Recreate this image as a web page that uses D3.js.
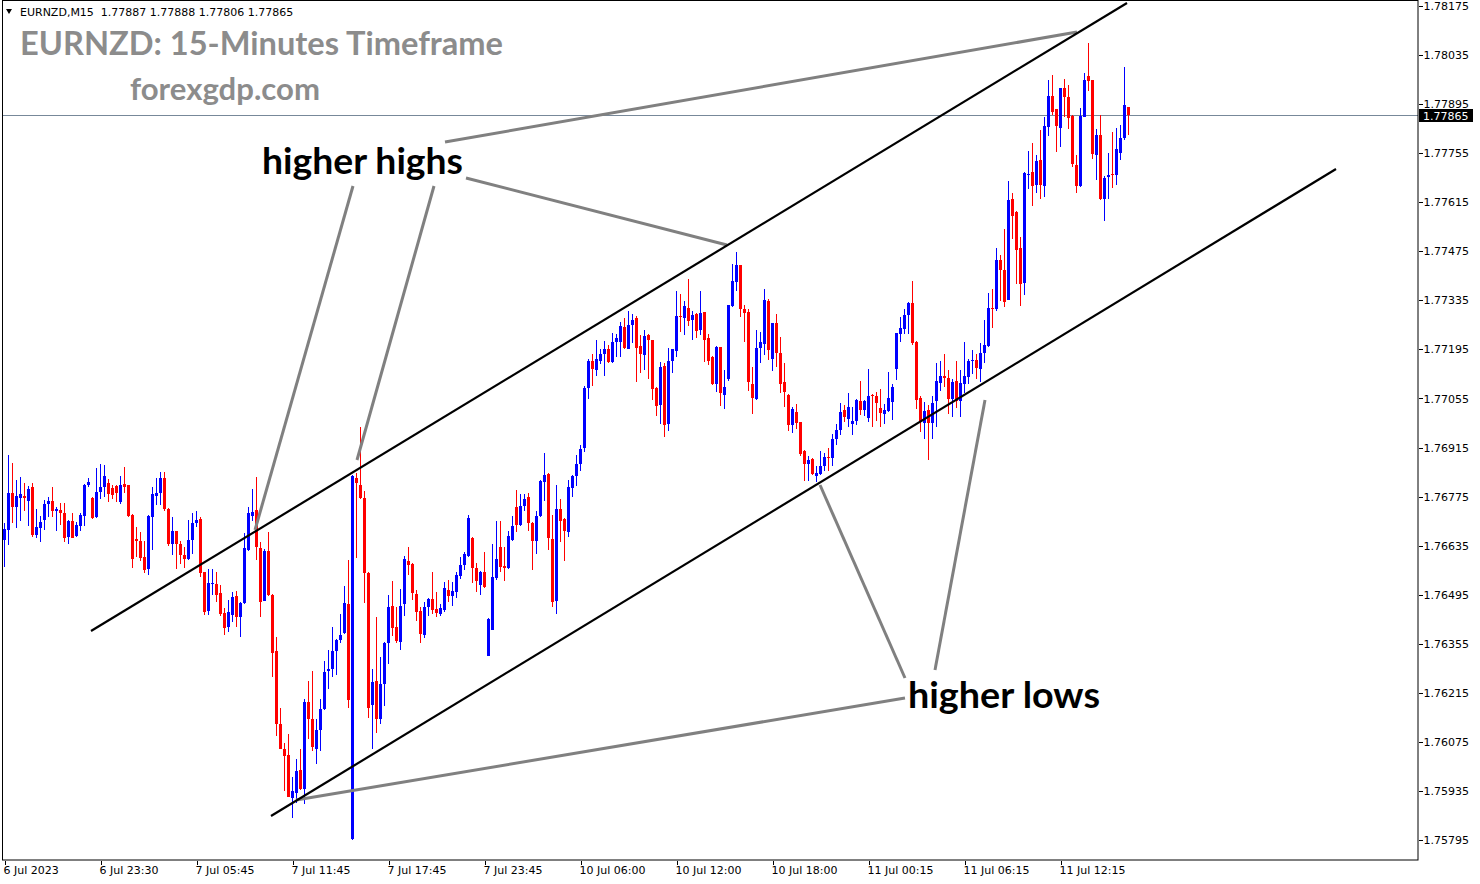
<!DOCTYPE html>
<html><head><meta charset="utf-8">
<script src="https://cdn.jsdelivr.net/npm/d3@7"></script>
<style>html,body{margin:0;padding:0;background:#fff;}svg{display:block}</style>
</head><body>
<svg id="chart" width="1480" height="884"></svg>
<script>
const opens = [
1.76652,1.76681,1.76786,1.76744,1.76771,1.76778,1.76761,1.76801,1.76664,1.76684,
1.76707,1.76753,1.76763,1.76733,1.76738,1.76729,1.76659,1.76706,1.76663,1.76690,
1.76719,1.76807,1.76770,1.76716,1.76787,1.76801,1.76813,1.76799,1.76805,1.76759,
1.76810,1.76807,1.76723,1.76653,1.76647,1.76603,1.76567,1.76716,1.76776,1.76784,
1.76827,1.76739,1.76641,1.76676,1.76641,1.76609,1.76597,1.76652,1.76699,1.76712,
1.76559,1.76449,1.76526,1.76526,1.76501,1.76443,1.76404,1.76438,1.76491,1.76430,
1.76470,1.76624,1.76721,1.76738,1.76629,1.76478,1.76619,1.76495,1.76335,1.76125,
1.76055,1.76037,1.75916,1.75930,1.75994,1.75940,1.76189,1.76140,1.76054,1.76108,
1.76168,1.76276,1.76283,1.76335,1.76365,1.76386,1.76469,1.75797,1.76828,1.76809,
1.76771,1.76556,1.76180,1.76249,1.76141,1.76240,1.76356,1.76463,1.76403,1.76361,
1.76469,1.76592,1.76583,1.76497,1.76449,1.76381,1.76459,1.76483,1.76453,1.76441,
1.76451,1.76509,1.76492,1.76504,1.76547,1.76581,1.76606,1.76658,1.76572,1.76523,
1.76561,1.76321,1.76395,1.76544,1.76632,1.76576,1.76571,1.76652,1.76744,1.76695,
1.76747,1.76773,1.76701,1.76649,1.76719,1.76816,1.76840,1.76654,1.76476,1.76740,
1.76711,1.76673,1.76800,1.76833,1.76868,1.76913,1.77085,1.77163,1.77135,1.77163,
1.77181,1.77197,1.77159,1.77215,1.77217,1.77258,1.77197,1.77266,1.77285,1.77206,
1.77179,1.77235,1.77221,1.77084,1.77035,1.77149,1.76981,1.77161,1.77190,1.77291,
1.77284,1.77314,1.77278,1.77297,1.77249,1.77301,1.77227,1.77173,1.77095,1.77201,
1.77066,1.77111,1.77319,1.77387,1.77435,1.77311,1.77301,1.77097,1.77054,1.77199,
1.77211,1.77333,1.77168,1.77269,1.77185,1.77101,1.77066,1.76978,1.77016,1.76987,
1.76906,1.76868,1.76883,1.76835,1.76840,1.76861,1.76889,1.76885,1.76940,1.76965,
1.77021,1.76995,1.76981,1.76990,1.77049,1.77021,1.76998,1.77066,1.77063,1.77027,
1.77011,1.77019,1.77044,1.77138,1.77239,1.77254,1.77292,1.77328,1.77217,1.77057,
1.76985,1.77021,1.76985,1.77047,1.77098,1.77119,1.77114,1.77054,1.77104,1.77047,
1.77097,1.77116,1.77161,1.77166,1.77140,1.77185,1.77206,1.77313,1.77311,1.77449,
1.77423,1.77337,1.77625,1.77587,1.77484,1.77384,1.77692,1.77701,1.77663,1.77735,
1.77660,1.77830,1.77918,1.77880,1.77827,1.77940,1.77914,1.77861,1.77721,1.77661,
1.77859,1.77975,1.77963,1.77751,1.77808,1.77625,1.77687,1.77695,1.77692,1.77756,
1.77797,1.77887];
const highs = [
1.76701,1.76895,1.76872,1.76823,1.76832,1.76813,1.76804,1.76813,1.76741,1.76719,
1.76766,1.76775,1.76803,1.76744,1.76758,1.76758,1.76709,1.76729,1.76703,1.76729,
1.76812,1.76829,1.76775,1.76858,1.76869,1.76866,1.76824,1.76807,1.76807,1.76835,
1.76859,1.76809,1.76725,1.76687,1.76673,1.76647,1.76723,1.76801,1.76828,1.76846,
1.76846,1.76743,1.76716,1.76678,1.76649,1.76630,1.76707,1.76729,1.76735,1.76718,
1.76561,1.76569,1.76569,1.76560,1.76523,1.76456,1.76481,1.76504,1.76506,1.76475,
1.76670,1.76746,1.76798,1.76830,1.76644,1.76625,1.76675,1.76497,1.76375,1.76171,
1.76073,1.76098,1.75975,1.76025,1.76054,1.76196,1.76249,1.76276,1.76140,1.76197,
1.76306,1.76337,1.76403,1.76368,1.76440,1.76521,1.76594,1.76838,1.76841,1.76973,
1.76792,1.76559,1.76283,1.76430,1.76316,1.76359,1.76495,1.76535,1.76459,1.76511,
1.76606,1.76632,1.76585,1.76508,1.76459,1.76474,1.76486,1.76559,1.76503,1.76469,
1.76530,1.76537,1.76530,1.76559,1.76603,1.76618,1.76723,1.76660,1.76586,1.76563,
1.76616,1.76429,1.76641,1.76706,1.76704,1.76632,1.76676,1.76721,1.76795,1.76781,
1.76781,1.76784,1.76703,1.76735,1.76821,1.76899,1.76843,1.76723,1.76809,1.76768,
1.76713,1.76821,1.76837,1.76895,1.76923,1.77090,1.77168,1.77181,1.77221,1.77197,
1.77219,1.77209,1.77241,1.77239,1.77273,1.77285,1.77304,1.77297,1.77289,1.77235,
1.77249,1.77239,1.77223,1.77087,1.77159,1.77155,1.77200,1.77197,1.77363,1.77354,
1.77332,1.77397,1.77306,1.77299,1.77361,1.77303,1.77239,1.77175,1.77204,1.77203,
1.77135,1.77323,1.77440,1.77473,1.77437,1.77321,1.77311,1.77146,1.77251,1.77244,
1.77368,1.77340,1.77270,1.77297,1.77230,1.77156,1.77068,1.77030,1.77038,1.76989,
1.76908,1.76892,1.76885,1.76863,1.76904,1.76899,1.76914,1.76954,1.76981,1.77042,
1.77035,1.77070,1.77030,1.77054,1.77104,1.77051,1.77140,1.77068,1.77073,1.77081,
1.77040,1.77130,1.77095,1.77243,1.77287,1.77311,1.77330,1.77389,1.77219,1.77063,
1.77044,1.77035,1.77063,1.77156,1.77161,1.77181,1.77137,1.77111,1.77163,1.77137,
1.77217,1.77168,1.77192,1.77183,1.77213,1.77278,1.77356,1.77366,1.77483,1.77463,
1.77540,1.77675,1.77640,1.77589,1.77516,1.77701,1.77761,1.77784,1.77749,1.77821,
1.77857,1.77963,1.77978,1.77882,1.77942,1.77968,1.77949,1.77863,1.77749,1.77885,
1.77985,1.78068,1.77965,1.77823,1.77863,1.77689,1.77756,1.77816,1.77826,1.77835,
1.78001,1.77888];
const lows = [
1.76573,1.76638,1.76701,1.76684,1.76706,1.76733,1.76692,1.76659,1.76656,1.76644,
1.76680,1.76716,1.76718,1.76676,1.76695,1.76644,1.76639,1.76656,1.76661,1.76678,
1.76690,1.76801,1.76712,1.76714,1.76769,1.76775,1.76759,1.76768,1.76759,1.76753,
1.76784,1.76716,1.76570,1.76603,1.76590,1.76556,1.76552,1.76623,1.76752,1.76750,
1.76733,1.76633,1.76608,1.76567,1.76583,1.76570,1.76593,1.76612,1.76689,1.76546,
1.76438,1.76438,1.76495,1.76474,1.76433,1.76381,1.76390,1.76416,1.76404,1.76373,
1.76468,1.76621,1.76706,1.76594,1.76430,1.76476,1.76491,1.76261,1.76092,1.76054,
1.75934,1.75917,1.75857,1.75901,1.75937,1.75897,1.76083,1.76049,1.76011,1.76049,
1.76165,1.76225,1.76259,1.76266,1.76356,1.76382,1.76171,1.75795,1.76601,1.76768,
1.76470,1.76143,1.76054,1.76100,1.76127,1.76176,1.76297,1.76376,1.76356,1.76337,
1.76435,1.76552,1.76481,1.76419,1.76356,1.76371,1.76433,1.76441,1.76432,1.76435,
1.76447,1.76475,1.76463,1.76487,1.76541,1.76566,1.76603,1.76527,1.76504,1.76495,
1.76513,1.76319,1.76393,1.76537,1.76559,1.76535,1.76568,1.76649,1.76673,1.76692,
1.76733,1.76676,1.76565,1.76611,1.76717,1.76763,1.76623,1.76459,1.76441,1.76644,
1.76590,1.76659,1.76773,1.76806,1.76849,1.76903,1.77054,1.77092,1.77119,1.77152,
1.77119,1.77155,1.77156,1.77173,1.77173,1.77197,1.77195,1.77213,1.77101,1.77127,
1.77135,1.77111,1.77051,1.77006,1.76983,1.76944,1.76961,1.77127,1.77173,1.77244,
1.77235,1.77263,1.77221,1.77228,1.77235,1.77159,1.77151,1.77093,1.77073,1.77033,
1.77025,1.77106,1.77316,1.77363,1.77287,1.77215,1.77076,1.77011,1.77052,1.77156,
1.77178,1.77165,1.77133,1.77146,1.77070,1.77032,1.76963,1.76956,1.76968,1.76892,
1.76819,1.76819,1.76838,1.76817,1.76838,1.76849,1.76849,1.76863,1.76923,1.76952,
1.76987,1.76973,1.76951,1.76978,1.77009,1.77006,1.76987,1.76973,1.76992,1.76975,
1.76981,1.77017,1.76994,1.77108,1.77215,1.77238,1.77239,1.77209,1.77025,1.76959,
1.76940,1.76878,1.76940,1.76975,1.77077,1.77087,1.77011,1.77003,1.77028,1.77001,
1.77070,1.77095,1.77125,1.77111,1.77101,1.77156,1.77203,1.77256,1.77306,1.77333,
1.77315,1.77335,1.77511,1.77381,1.77318,1.77349,1.77654,1.77603,1.77640,1.77625,
1.77630,1.77803,1.77863,1.77759,1.77773,1.77857,1.77823,1.77716,1.77641,1.77659,
1.77857,1.77933,1.77737,1.77678,1.77621,1.77561,1.77623,1.77657,1.77663,1.77735,
1.77794,1.77806];
const closes = [
1.76683,1.76784,1.76746,1.76778,1.76781,1.76770,1.76798,1.76666,1.76689,1.76703,
1.76755,1.76763,1.76733,1.76739,1.76727,1.76656,1.76706,1.76658,1.76695,1.76723,
1.76809,1.76818,1.76713,1.76789,1.76801,1.76835,1.76781,1.76779,1.76784,1.76807,
1.76801,1.76721,1.76596,1.76647,1.76601,1.76566,1.76719,1.76783,1.76784,1.76827,
1.76739,1.76641,1.76678,1.76641,1.76609,1.76596,1.76650,1.76701,1.76709,1.76557,
1.76446,1.76528,1.76528,1.76493,1.76441,1.76401,1.76446,1.76489,1.76432,1.76470,
1.76627,1.76727,1.76731,1.76630,1.76474,1.76621,1.76493,1.76330,1.76127,1.76056,
1.76036,1.75919,1.75935,1.75992,1.75940,1.76189,1.76140,1.76059,1.76108,1.76168,
1.76275,1.76283,1.76335,1.76366,1.76380,1.76472,1.76194,1.76835,1.76813,1.76771,
1.76556,1.76171,1.76246,1.76140,1.76241,1.76356,1.76461,1.76399,1.76363,1.76463,
1.76598,1.76581,1.76501,1.76447,1.76384,1.76461,1.76483,1.76451,1.76444,1.76457,
1.76514,1.76492,1.76506,1.76552,1.76581,1.76610,1.76713,1.76570,1.76533,1.76561,
1.76516,1.76427,1.76546,1.76597,1.76575,1.76571,1.76663,1.76690,1.76695,1.76749,
1.76768,1.76699,1.76647,1.76721,1.76819,1.76838,1.76656,1.76473,1.76740,1.76706,
1.76676,1.76803,1.76835,1.76868,1.76911,1.77085,1.77163,1.77138,1.77168,1.77181,
1.77195,1.77159,1.77217,1.77227,1.77261,1.77199,1.77266,1.77278,1.77200,1.77183,
1.77232,1.77223,1.77081,1.77033,1.77146,1.76978,1.77161,1.77195,1.77289,1.77288,
1.77318,1.77275,1.77292,1.77247,1.77299,1.77223,1.77163,1.77095,1.77201,1.77071,
1.77089,1.77321,1.77389,1.77435,1.77309,1.77299,1.77101,1.77057,1.77200,1.77215,
1.77335,1.77194,1.77269,1.77185,1.77097,1.77073,1.76978,1.77025,1.76984,1.76897,
1.76868,1.76880,1.76840,1.76842,1.76861,1.76889,1.76885,1.76940,1.76965,1.77016,
1.77001,1.77030,1.76992,1.77052,1.77023,1.77049,1.77063,1.77061,1.77042,1.77013,
1.77021,1.77057,1.77087,1.77241,1.77256,1.77294,1.77328,1.77212,1.77051,1.76987,
1.77019,1.76985,1.77043,1.77104,1.77118,1.77114,1.77054,1.77101,1.77047,1.77098,
1.77118,1.77161,1.77166,1.77143,1.77185,1.77209,1.77313,1.77311,1.77449,1.77421,
1.77330,1.77621,1.77575,1.77478,1.77381,1.77698,1.77697,1.77661,1.77733,1.77663,
1.77832,1.77918,1.77873,1.77833,1.77940,1.77916,1.77856,1.77723,1.77661,1.77861,
1.77965,1.77961,1.77754,1.77808,1.77623,1.77685,1.77692,1.77692,1.77768,1.77797,
1.77892,1.77865];

const xTickBars = [0,24,48,72,96,120,144,168,192,216,240,264];
const xTickLabels = ["6 Jul 2023","6 Jul 23:30","7 Jul 05:45","7 Jul 11:45","7 Jul 17:45","7 Jul 23:45",
  "10 Jul 06:00","10 Jul 12:00","10 Jul 18:00","11 Jul 00:15","11 Jul 06:15","11 Jul 12:15"];
const yTicks = [1.78175,1.78035,1.77895,1.77755,1.77615,1.77475,1.77335,1.77195,1.77055,
  1.76915,1.76775,1.76635,1.76495,1.76355,1.76215,1.76075,1.75935,1.75795];
const lastPrice = 1.77865;
const headerText = "EURNZD,M15  1.77887 1.77888 1.77806 1.77865";
const titleText = "EURNZD: 15-Minutes Timeframe";
const siteText = "forexgdp.com";
const labelHighs = "higher highs";
const labelLows = "higher lows";
// trend lines: [barIndex, price] endpoints
const channelLines = [
  [[21.625,1.763914],[280.625,1.781836]],
  [[66.625,1.758635],[332.875,1.777098]]
];
const pointerLines = [
  [[110.125,1.777869],[268.125,1.781008]],
  [[115.375,1.776842],[180.625,1.774930]],
  [[87.125,1.776613],[62.625,1.766797]],
  [[107.375,1.776613],[88.125,1.768794]],
  [[225.125,1.762002],[72.875,1.759091]],
  [[225.125,1.762573],[203.875,1.768081]],
  [[232.625,1.762801],[245.125,1.770506]]
];

const svg = d3.select("#chart");
const W = 1480, H = 884;
const plotRight = 1418, plotBottom = 860;
const x = d3.scaleLinear().domain([0, 281]).range([4.5, 1128.5]);
const y = d3.scaleLinear().domain([1.75795, 1.78175]).range([840, 6]);

svg.append("rect").attr("width", W).attr("height", H).attr("fill", "#fff");

const clip = svg.append("defs").append("clipPath").attr("id","plotclip")
  .append("rect").attr("x",3).attr("y",1).attr("width",plotRight-3).attr("height",plotBottom-1);

// current price line
svg.append("line").attr("x1", 3).attr("x2", plotRight)
  .attr("y1", Math.round(y(lastPrice)) + 0.5).attr("y2", Math.round(y(lastPrice)) + 0.5)
  .attr("stroke", "#778899").attr("stroke-width", 1);

// candles
const data = opens.map((o, i) => ({i, o, h: highs[i], l: lows[i], c: closes[i]}));
const g = svg.append("g").attr("clip-path","url(#plotclip)");
const cg = g.append("g").attr("shape-rendering", "crispEdges");
cg.selectAll("line.wick").data(data).join("line")
  .attr("x1", d => x(d.i)).attr("x2", d => x(d.i))
  .attr("y1", d => y(d.h)).attr("y2", d => y(d.l))
  .attr("stroke", d => d.c >= d.o ? "#0000ff" : "#ff0000").attr("stroke-width", 1);
cg.selectAll("rect.body").data(data).join("rect")
  .attr("x", d => x(d.i) - 1.5).attr("width", 3)
  .attr("y", d => y(Math.max(d.o, d.c)))
  .attr("height", d => Math.max(1, y(Math.min(d.o, d.c)) - y(Math.max(d.o, d.c))))
  .attr("fill", d => d.c >= d.o ? "#0000ff" : "#ff0000");

// gray pointer lines
g.selectAll("line.ptr").data(pointerLines).join("line")
  .attr("x1", d => x(d[0][0])).attr("y1", d => y(d[0][1]))
  .attr("x2", d => x(d[1][0])).attr("y2", d => y(d[1][1]))
  .attr("stroke", "#808080").attr("stroke-width", 3);
// channel lines
g.selectAll("line.chan").data(channelLines).join("line")
  .attr("x1", d => x(d[0][0])).attr("y1", d => y(d[0][1]))
  .attr("x2", d => x(d[1][0])).attr("y2", d => y(d[1][1]))
  .attr("stroke", "#000").attr("stroke-width", 2.2);

// frame
svg.append("rect").attr("x", 2.5).attr("y", 0.5).attr("width", plotRight - 2.5).attr("height", plotBottom - 0.5)
  .attr("fill", "none").attr("stroke", "#000").attr("stroke-width", 1);

// right axis
const yAxis = d3.axisRight(y).tickValues(yTicks).tickSize(4).tickPadding(1).tickFormat(d3.format(".5f"));
const ya = svg.append("g").attr("transform", `translate(${plotRight + 0.5},0)`).call(yAxis);
ya.select(".domain").remove();
ya.selectAll("text").attr("font-family", "DejaVu Sans, sans-serif").attr("font-size", 11).attr("fill", "#000");
ya.selectAll("line").attr("stroke", "#000").attr("shape-rendering","crispEdges");

// bottom axis
const xAxis = d3.axisBottom(x).tickValues(xTickBars).tickSize(4).tickPadding(2)
  .tickFormat((d, k) => xTickLabels[k]);
const xa = svg.append("g").attr("transform", `translate(0,${plotBottom + 0.5})`).call(xAxis);
xa.select(".domain").remove();
xa.selectAll("text").attr("font-family", "DejaVu Sans, sans-serif").attr("font-size", 11).attr("fill", "#000")
  .attr("text-anchor", "start").attr("dx", -1.5);
xa.selectAll("line").attr("stroke", "#000").attr("shape-rendering","crispEdges");

// last price box
const ly = y(lastPrice);
svg.append("rect").attr("x", plotRight + 1).attr("y", Math.round(ly) - 6).attr("width", 54).attr("height", 13).attr("fill", "#000");
svg.append("text").attr("x", plotRight + 5).attr("y", Math.round(ly) + 4.5).text(d3.format(".5f")(lastPrice))
  .attr("font-family", "DejaVu Sans, sans-serif").attr("font-size", 11).attr("fill", "#fff");

// header
svg.append("path").attr("d", "M6,9 L12,9 L9,14 Z").attr("fill", "#000");
svg.append("text").attr("x", 20).attr("y", 16).text(headerText).attr("xml:space","preserve")
  .style("white-space","pre")
  .attr("font-family", "DejaVu Sans, sans-serif").attr("font-size", 11).attr("fill", "#000");

// titles
svg.append("text").attr("x", 20).attr("y", 55).text(titleText)
  .attr("font-family", "Lato, sans-serif").attr("font-weight", "bold").attr("font-size", 33)
  .attr("textLength", 483).attr("lengthAdjust", "spacingAndGlyphs").attr("fill", "#8c8c8c");
svg.append("text").attr("x", 130).attr("y", 100).text(siteText)
  .attr("font-family", "Lato, sans-serif").attr("font-weight", "bold").attr("font-size", 30)
  .attr("textLength", 190).attr("lengthAdjust", "spacingAndGlyphs").attr("fill", "#8c8c8c");
svg.append("text").attr("x", 262).attr("y", 174).text(labelHighs)
  .attr("font-family", "Lato, sans-serif").attr("font-weight", "bold").attr("font-size", 37)
  .attr("textLength", 201).attr("lengthAdjust", "spacingAndGlyphs").attr("fill", "#000");
svg.append("text").attr("x", 908).attr("y", 708).text(labelLows)
  .attr("font-family", "Lato, sans-serif").attr("font-weight", "bold").attr("font-size", 37)
  .attr("textLength", 192).attr("lengthAdjust", "spacingAndGlyphs").attr("fill", "#000");
</script>
</body></html>
